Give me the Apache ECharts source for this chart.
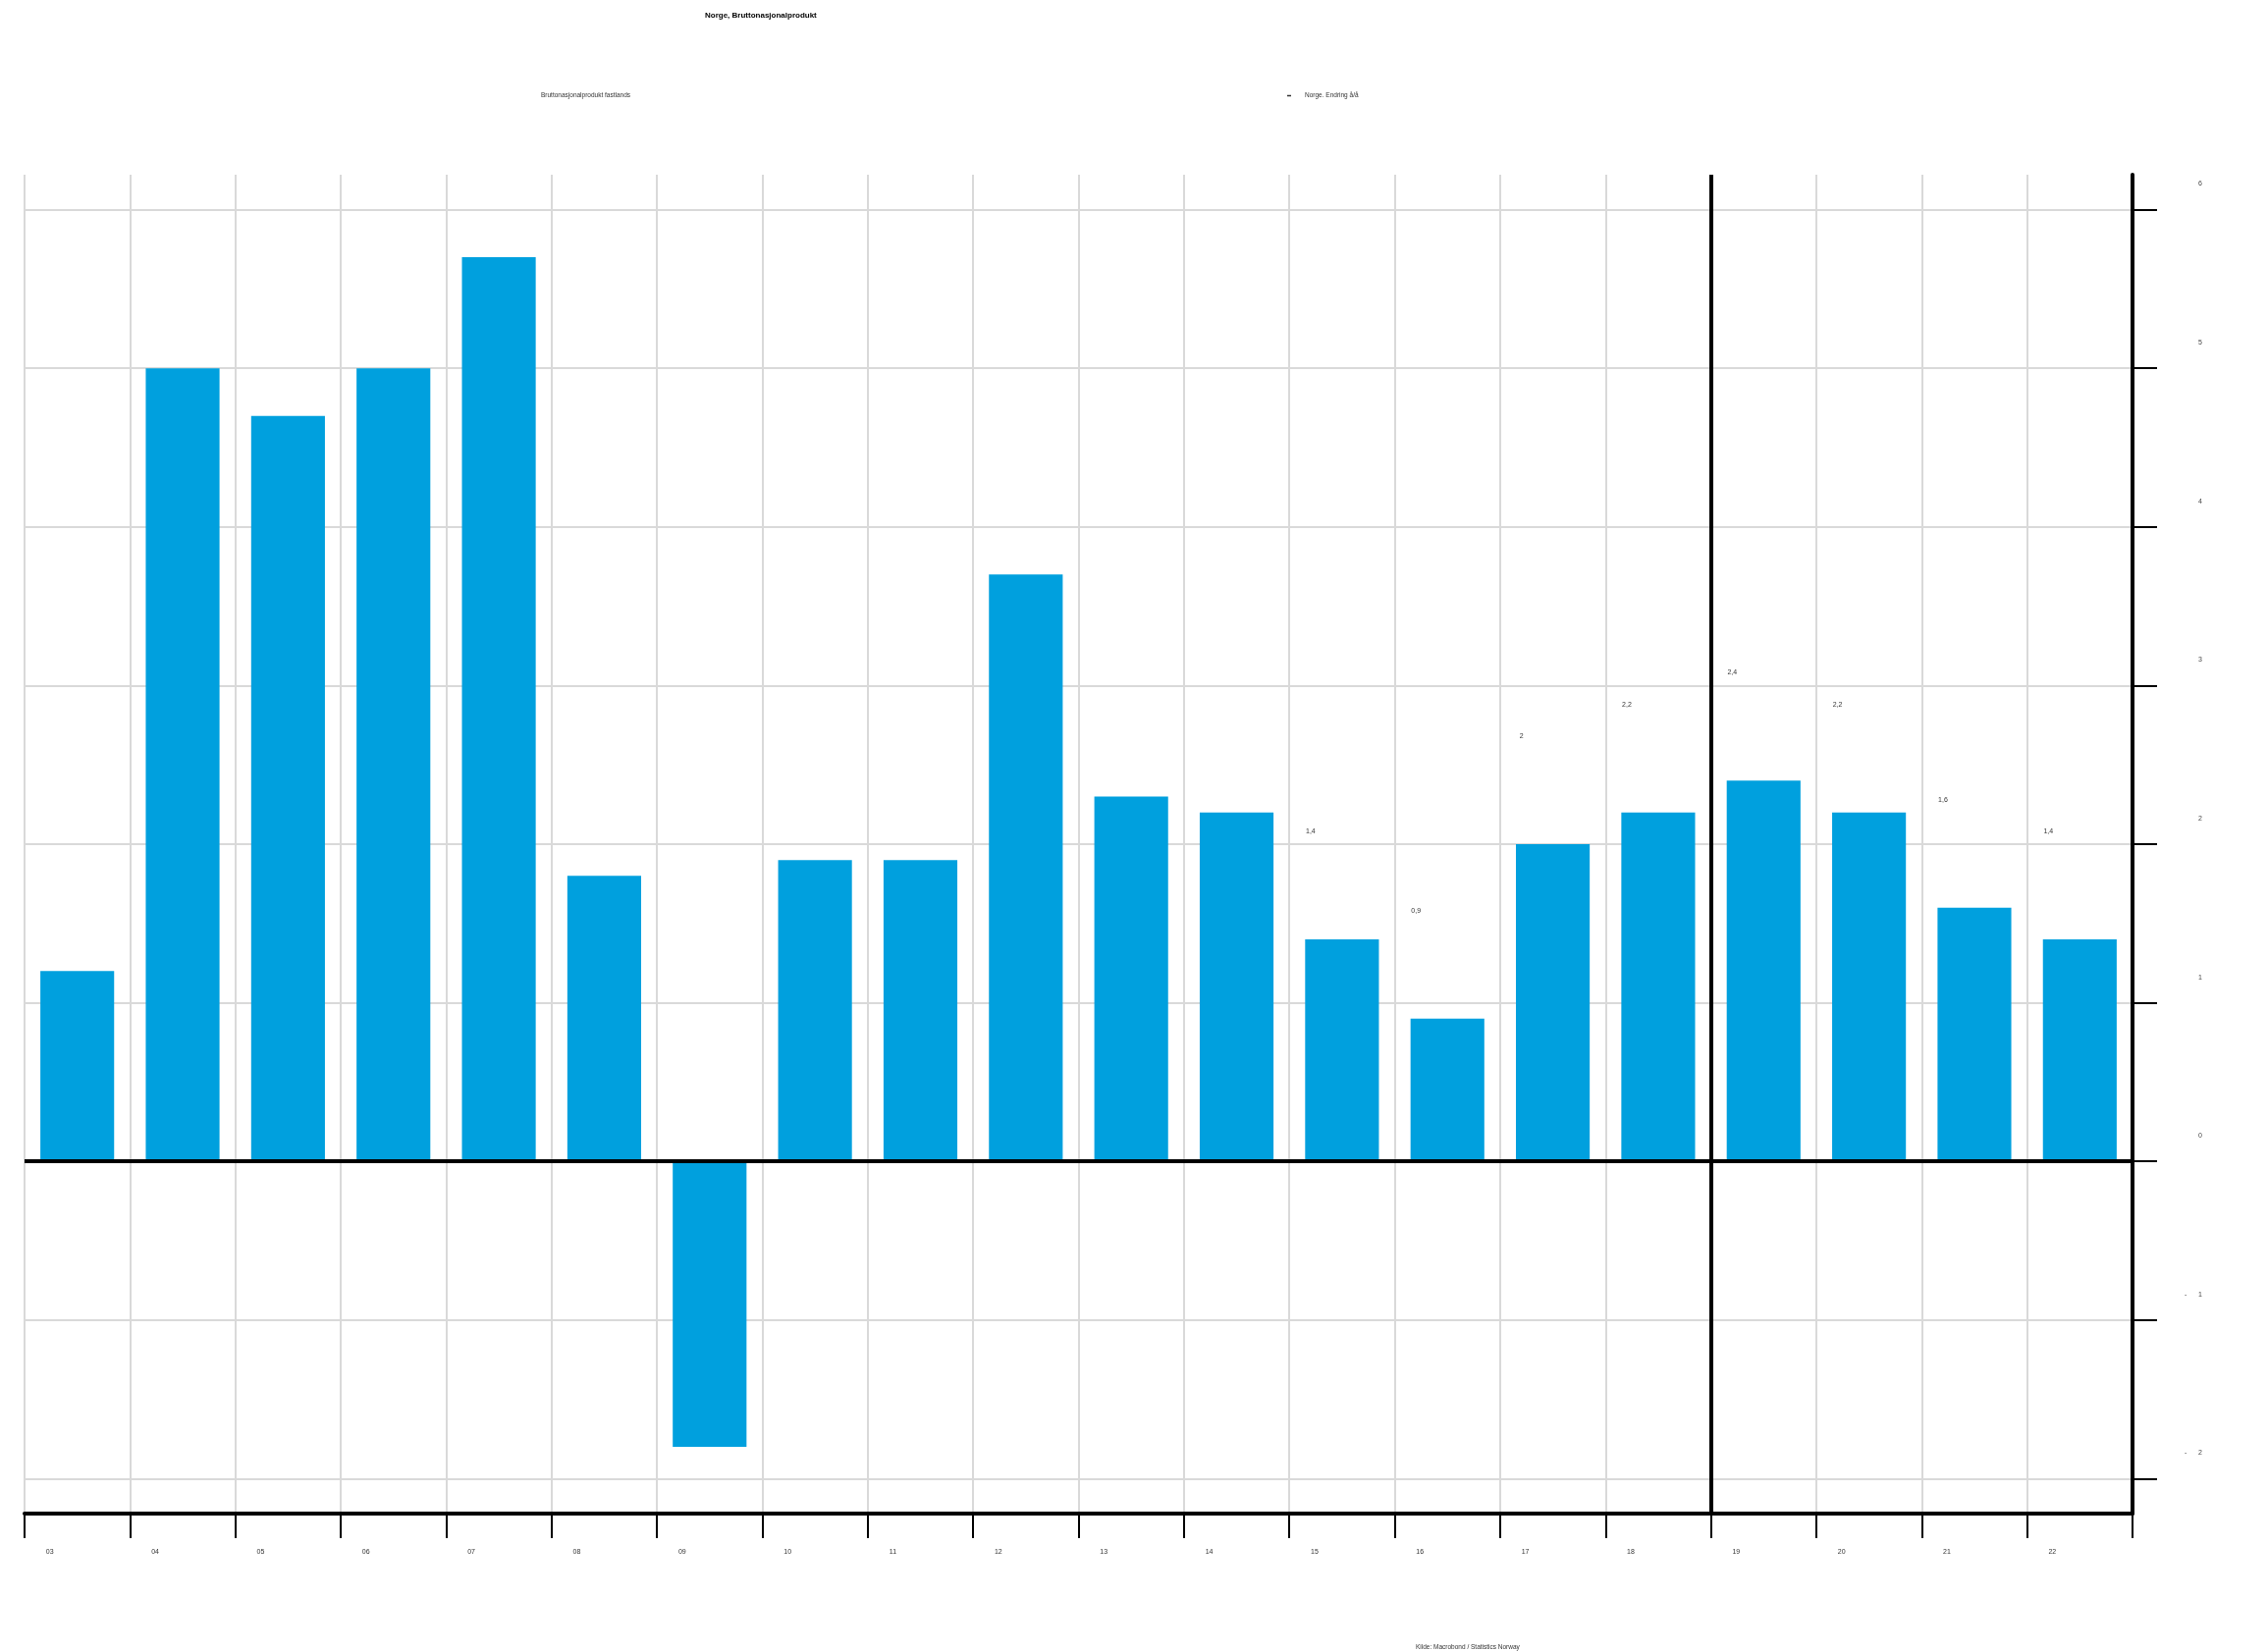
<!DOCTYPE html>
<html>
<head>
<meta charset="utf-8">
<script src="https://cdn.jsdelivr.net/npm/echarts@6/dist/echarts.min.js"></script>
<style>
html,body{margin:0;padding:0;background:#fff;}
#chart{width:2310px;height:1682px;}
</style>
</head>
<body>
<div id="chart"></div>
<script>
// ---- data ----
const years = ['03','04','05','06','07','08','09','10','11','12','13','14','15','16','17','18','19','20','21','22'];
const gdpMainland = [1.2, 5.0, 4.7, 5.0, 5.7, 1.8, -1.8, 1.9, 1.9, 3.7, 2.3, 2.2, 1.4, 0.9, 2.0, 2.2, 2.4, 2.2, 1.6, 1.4];
const growthYears = ['15','16','17','18','19','20','21','22'];
const growthValues = [1.4, 0.9, 2.0, 2.2, 2.4, 2.2, 1.6, 1.4];
const yTicks = [-2, -1, 0, 1, 2, 3, 4, 5, 6];
const forecastStart = '19';
const titleText = 'Norge, Bruttonasjonalprodukt';
const seriesNames = ['Bruttonasjonalprodukt fastlands', 'Norge. Endring å/å'];
const sourceText = 'Kilde: Macrobond / Statistics Norway';

// ---- chart ----
const FONT = '"Liberation Sans Narrow", "Liberation Sans", Arial, sans-serif';
const chart = echarts.init(document.getElementById('chart'), null, {renderer: 'canvas'});
const fmt = v => String(v).replace('.', ',');
const forecastBoundary = years.indexOf(forecastStart) - 0.5;

const option = {
  backgroundColor: '#ffffff',
  animation: false,
  textStyle: {fontFamily: FONT},
  title: [
    {text: titleText, left: 718, top: 12, padding: 0,
     textStyle: {fontFamily: FONT, fontSize: 8, fontWeight: 'bold', color: '#000'}},
    {text: sourceText, left: 1442, top: 1675, padding: 0,
     textStyle: {fontFamily: FONT, fontSize: 6.5, fontWeight: 'normal', color: '#333'}}
  ],
  legend: [
    {data: [seriesNames[0]], left: 545, top: 94, padding: 0, itemWidth: 1, itemHeight: 1,
     itemStyle: {opacity: 0}, selectedMode: false,
     textStyle: {fontFamily: FONT, fontSize: 6.5, color: '#333'}},
    {data: [{name: seriesNames[1], icon: 'rect'}], left: 1311, top: 94, padding: 0,
     itemWidth: 4, itemHeight: 1.5, selectedMode: false,
     itemStyle: {color: '#333', opacity: 1}, lineStyle: {opacity: 0},
     textStyle: {fontFamily: FONT, fontSize: 6.5, color: '#333', padding: [0, 0, 0, 9]}}
  ],
  grid: {left: 25, right: 138, top: 178, bottom: 140, containLabel: false},
  xAxis: [
    {type: 'category', data: years, boundaryGap: true, position: 'bottom',
     axisLine: {onZero: false, lineStyle: {color: '#000', width: 4}},
     axisTick: {show: true, length: 25, lineStyle: {color: '#000', width: 2}},
     splitLine: {show: true, lineStyle: {color: '#d9d9d9', width: 2}},
     axisLabel: {fontFamily: FONT, fontSize: 7, color: '#333', margin: 36, align: 'center',
                 padding: [0, 56, 0, 0]}},
    {type: 'value', show: false, min: -0.5, max: years.length - 0.5,
     axisLine: {onZero: false}}
  ],
  yAxis: [
    {type: 'value', position: 'right', min: -2.22, max: 6.22, splitNumber: 8,
     axisLine: {show: true, onZero: false, lineStyle: {color: '#000', width: 4}},
     axisTick: {show: true, length: 25, customValues: yTicks, lineStyle: {color: '#000', width: 2}},
     splitLine: {show: true, showMinLine: true, showMaxLine: true, lineStyle: {color: '#d9d9d9', width: 2}},
     axisLabel: {customValues: yTicks,
                 fontFamily: FONT, fontSize: 7, color: '#444', margin: 71, align: 'right',
                 verticalAlign: 'middle', lineHeight: 52,
                 formatter: v => (v < 0 ? '-      ' + Math.abs(v) : String(v)) + '\n '}},
    {type: 'value', show: false, min: -2.9, max: 5.54, axisLine: {onZero: false}}
  ],
  series: [
    {name: seriesNames[0], type: 'bar', data: gdpMainland, barWidth: '70%',
     itemStyle: {color: '#00a0de'},
     markLine: {silent: true, symbol: ['none', 'none'], label: {show: false},
                lineStyle: {color: '#000', width: 4, type: 'solid'},
                data: [{yAxis: 0}]}},
    {name: seriesNames[1], type: 'line', yAxisIndex: 1,
     data: growthYears.map((y, i) => [y, growthValues[i]]),
     symbol: 'circle', symbolSize: 1, showSymbol: true,
     itemStyle: {color: 'rgba(0,0,0,0)'}, lineStyle: {opacity: 0},
     label: {show: true, position: 'inside', offset: [-32, 0], fontFamily: FONT, fontSize: 7,
             color: '#333', formatter: p => fmt(p.value[1])}},
    {name: 'forecast', type: 'line', xAxisIndex: 1, yAxisIndex: 0, data: [],
     markLine: {silent: true, symbol: ['none', 'none'], label: {show: false},
                lineStyle: {color: '#000', width: 4, type: 'solid'},
                data: [{xAxis: forecastBoundary}]}}
  ]
};
chart.setOption(option);
</script>
</body>
</html>
